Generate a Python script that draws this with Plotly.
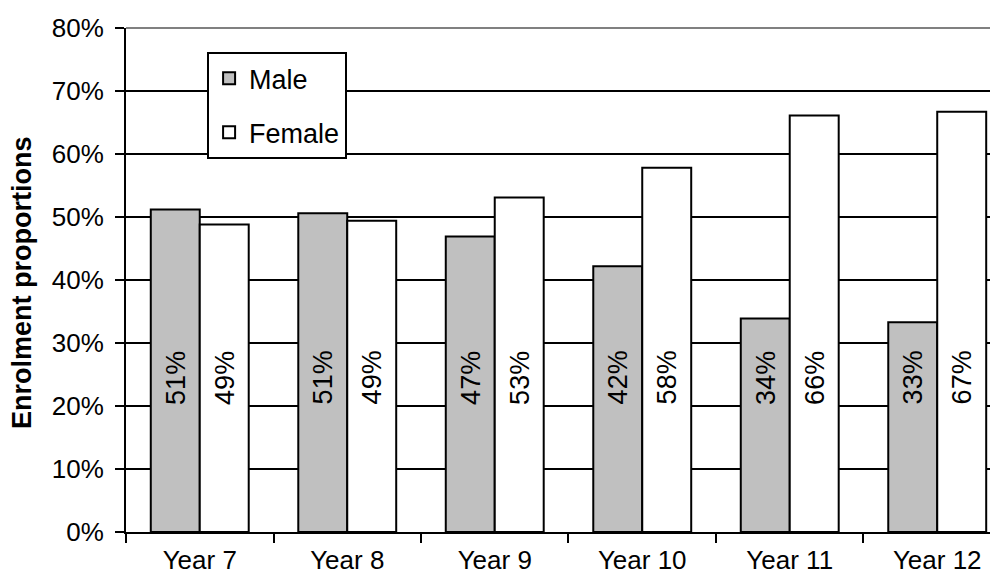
import plotly.graph_objects as go

categories = ["Year 7", "Year 8", "Year 9", "Year 10", "Year 11", "Year 12"]
male = [51.2, 50.6, 46.9, 42.2, 33.9, 33.3]
female = [48.8, 49.4, 53.1, 57.8, 66.1, 66.7]
male_labels = ["51%", "51%", "47%", "42%", "34%", "33%"]
female_labels = ["49%", "49%", "53%", "58%", "66%", "67%"]
y_ticks = [0, 10, 20, 30, 40, 50, 60, 70, 80]
y_tick_text = ["0%", "10%", "20%", "30%", "40%", "50%", "60%", "70%", "80%"]

FONT = "Liberation Sans, Arial, sans-serif"
LABEL_Y = 24.5

fig = go.Figure()
fig.add_trace(go.Bar(
    x=categories, y=male, name="Male",
    marker=dict(color="#C0C0C0", line=dict(color="black", width=2)),
    legendgroup="m",
))
fig.add_trace(go.Bar(
    x=categories, y=female, name="Female",
    marker=dict(color="white", line=dict(color="black", width=2)),
    legendgroup="f",
))

annotations = []
for c, ml, fl in zip(categories, male_labels, female_labels):
    annotations.append(dict(x=c, y=LABEL_Y, text=ml, showarrow=False, textangle=-90,
                            xshift=-24.5, font=dict(family=FONT, size=27, color="black")))
    annotations.append(dict(x=c, y=LABEL_Y, text=fl, showarrow=False, textangle=-90,
                            xshift=24.5, font=dict(family=FONT, size=27, color="black")))
annotations.append(dict(xref="paper", yref="paper", x=0, y=0.494, xshift=-121,
                        text="<b>Enrolment proportions</b>", showarrow=False, textangle=-90,
                        font=dict(family=FONT, size=27, color="black")))

fig.update_layout(
    width=990, height=566,
    margin=dict(l=118, r=0, t=20, b=42),
    paper_bgcolor="white", plot_bgcolor="white",
    barmode="group", bargap=0.336, bargroupgap=0,
    font=dict(family=FONT, size=26, color="black"),
    annotations=annotations,
    legend=dict(
        x=0.093, y=0.952, xanchor="left", yanchor="top",
        bgcolor="white", bordercolor="black", borderwidth=2,
        font=dict(family=FONT, size=27, color="black"),
        traceorder="grouped", tracegroupgap=16,
    ),
    xaxis=dict(
        type="category", range=[-0.5, 5.412],
        showgrid=False, showline=True, linecolor="black", linewidth=2,
        ticks="outside", tickson="boundaries", ticklen=9, tickwidth=2, tickcolor="black",
        ticklabelstandoff=4,
        tickfont=dict(family=FONT, size=26, color="black"),
    ),
    yaxis=dict(
        range=[0, 80], tickvals=y_ticks, ticktext=y_tick_text,
        showgrid=True, gridcolor="black", gridwidth=2,
        showline=True, linecolor="black", linewidth=2,
        ticks="outside", ticklen=9, tickwidth=2, tickcolor="black",
        ticklabelstandoff=6, zeroline=False,
        tickfont=dict(family=FONT, size=26, color="black"),
    ),
    shapes=[dict(type="line", xref="paper", yref="paper", x0=0, x1=1, y0=1, y1=1,
                 line=dict(color="#808080", width=2), layer="above")],
)

fig.write_html("out.html")
